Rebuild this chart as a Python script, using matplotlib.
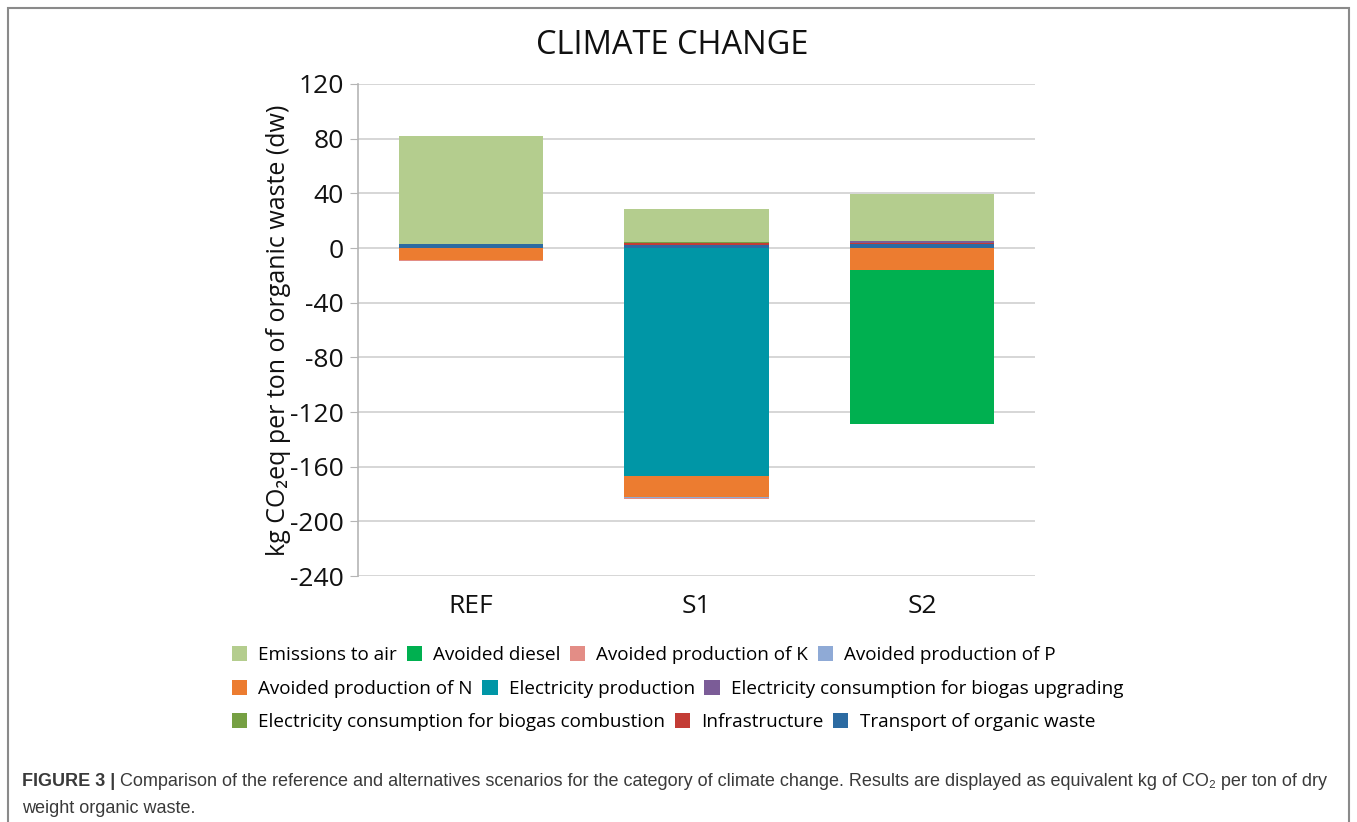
import matplotlib
matplotlib.use("Agg")
import matplotlib.pyplot as plt
from matplotlib.patches import Rectangle, Patch
import numpy as np

plt.rcParams["axes.unicode_minus"] = False

# data (kg CO2eq per ton dw)
scenarios = ["REF", "S1", "S2"]
series_names = [
    "Emissions to air", "Avoided diesel", "Avoided production of K",
    "Avoided production of P", "Avoided production of N", "Electricity production",
    "Electricity consumption for biogas upgrading",
    "Electricity consumption for biogas combustion", "Infrastructure",
    "Transport of organic waste",
]
emissions_to_air = [79.0, 23.5, 34.5]
avoided_diesel = [0.0, 0.0, -113.0]
avoided_k = [-1.0, -1.0, 0.0]
avoided_p = [-0.3, -0.5, 0.0]
avoided_n = [-8.5, -15.5, -16.0]
electricity_production = [0.0, -167.0, 0.0]
elec_upgrading = [0.0, 0.0, 1.0]
elec_combustion = [0.0, 1.2, 0.0]
infrastructure = [0.0, 1.3, 0.8]
transport = [3.0, 2.2, 3.0]

colors = ["#b4cd8e", "#00b050", "#e38d86", "#8faad6", "#ec7c30", "#0096a6",
          "#7b5c97", "#76a043", "#c33c35", "#2c6ba2"]

values = [emissions_to_air, avoided_diesel, avoided_k, avoided_p, avoided_n,
          electricity_production, elec_upgrading, elec_combustion,
          infrastructure, transport]

W, H = 1357, 822
fig = plt.figure(figsize=(W / 100, H / 100), dpi=100)
chart_font = ["Open Sans", "DejaVu Sans"]

ax = fig.add_axes([358 / W, 1 - 576 / H, (1035 - 358) / W, (576 - 84) / H])
x = np.arange(len(scenarios))
pos_base = np.zeros(len(scenarios))
neg_base = np.zeros(len(scenarios))
# stack from the last series outward, like the source spreadsheet
for name, vals, col in reversed(list(zip(series_names, values, colors))):
    v = np.array(vals)
    base = np.where(v >= 0, pos_base, neg_base)
    ax.bar(x, v, 0.64, bottom=base, color=col, zorder=3, linewidth=0)
    pos_base += np.where(v > 0, v, 0)
    neg_base += np.where(v < 0, v, 0)

ax.set_xlim(-0.5, 2.5)
ax.set_ylim(-240, 120)
ax.set_yticks(np.arange(-240, 121, 40))
ax.set_xticks(x)
ax.set_xticklabels(scenarios)
ax.grid(axis="y", color="#d0d0d0", linewidth=1.2, zorder=0)
for s in ["top", "right", "bottom"]:
    ax.spines[s].set_visible(False)
ax.spines["left"].set_color("#b5b5b5")
ax.spines["left"].set_linewidth(1.2)
ax.tick_params(axis="y", length=6, color="#b5b5b5", labelsize=19, pad=4)
ax.tick_params(axis="x", length=0, labelsize=19, pad=13)
for lab in ax.get_xticklabels() + ax.get_yticklabels():
    lab.set_family(chart_font)
    lab.set_color("#111111")

ax.set_ylabel("kg CO\u2082eq per ton of organic waste (dw)", fontsize=18,
              family=chart_font, color="#111111")
ax.yaxis.set_label_coords((291 - 358) / (1035 - 358), 0.5)
fig.text(672 / W, 1 - 45 / H, "CLIMATE CHANGE", ha="center", va="center",
         fontsize=23.5, family=chart_font, color="#111111")

# legend in three rows, left aligned like the source
rows = [[0, 1, 2, 3], [4, 5, 6], [7, 8, 9]]
row_y = [655, 689, 722]
for r, yy in zip(rows, row_y):
    handles = [Patch(facecolor=colors[i], label=series_names[i]) for i in r]
    fig.legend(handles=handles, loc="center left", bbox_to_anchor=(232 / W, 1 - yy / H),
               ncol=len(r), frameon=False, prop={"family": chart_font, "size": 13.6},
               handlelength=0.8, handleheight=0.8, handletextpad=0.6,
               columnspacing=0.5, borderaxespad=0, borderpad=0)

# outer frame
fig.patches.append(Rectangle((8 / W, -0.01), (1349 - 8) / W, 1 - 8 / H + 0.01,
                             transform=fig.transFigure, fill=False,
                             edgecolor="#8a8a8a", linewidth=1.5))

# caption
cap_font = ["Liberation Sans", "DejaVu Sans"]
t0 = fig.text(22 / W, 1 - 781 / H, "FIGURE 3 | ", fontsize=13, weight="bold",
              family=cap_font, color="#3a3a3a", va="center")
fig.canvas.draw()
bb = t0.get_window_extent()
fig.text(bb.x1 / W, 1 - 781 / H,
         "Comparison of the reference and alternatives scenarios for the category of climate change. "
         "Results are displayed as equivalent kg of CO\u2082 per ton of dry",
         fontsize=13, family=cap_font, color="#3a3a3a", va="center")
fig.text(22 / W, 1 - 808 / H, "weight organic waste.", fontsize=13,
         family=cap_font, color="#3a3a3a", va="center")

fig.savefig("out.png", dpi=100)
